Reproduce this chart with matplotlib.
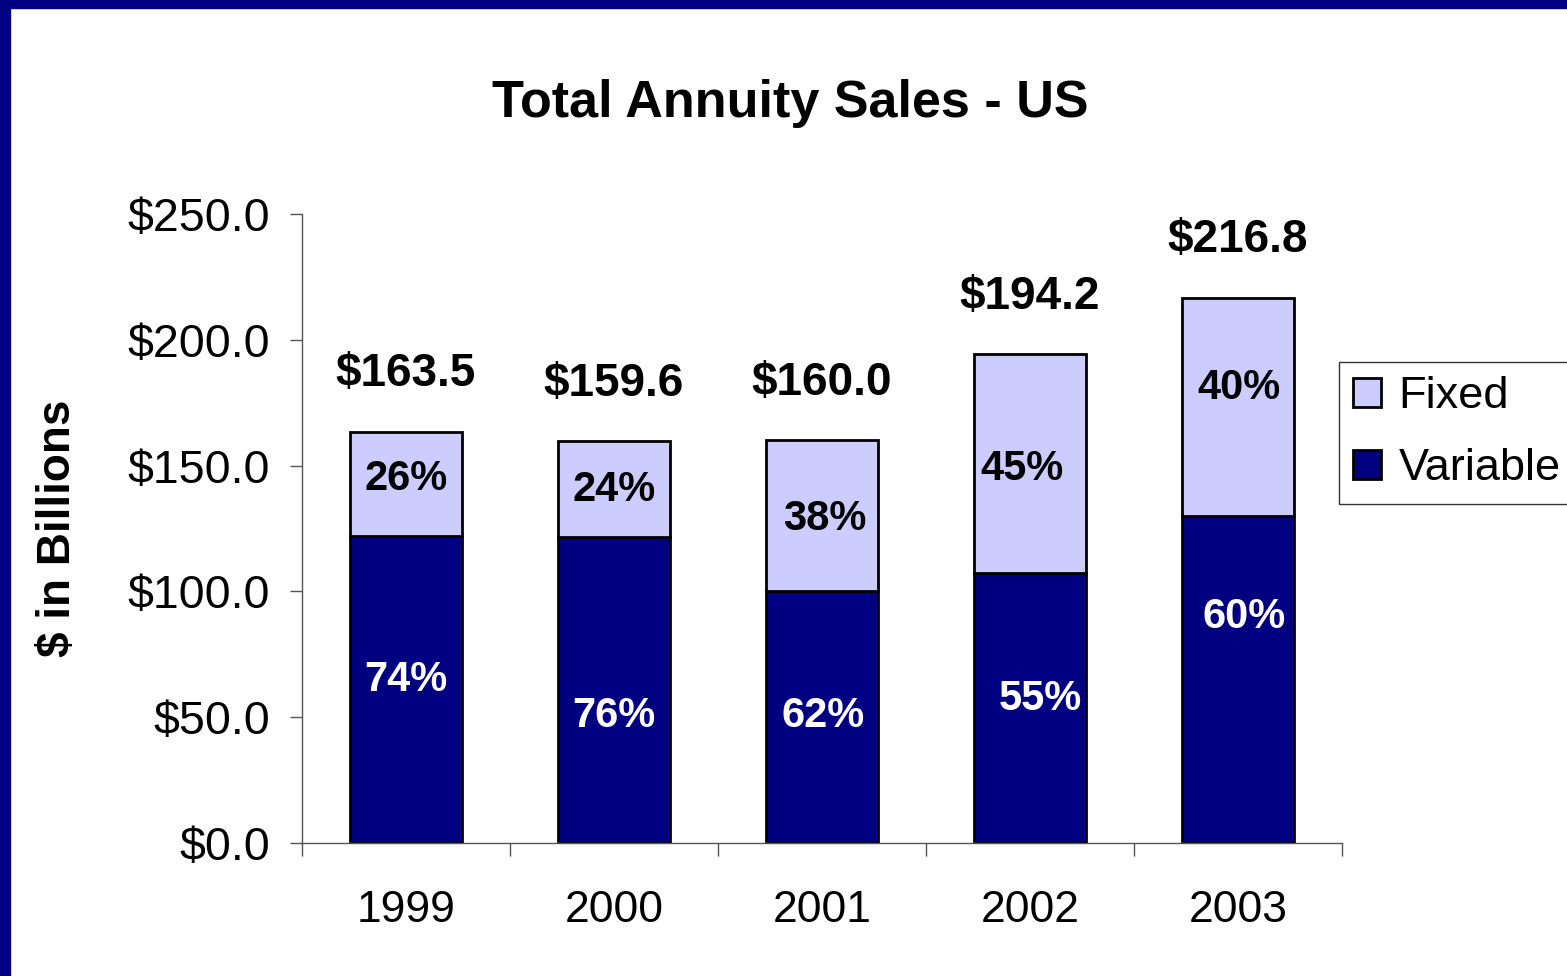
import matplotlib.pyplot as plt
import numpy as np
from matplotlib.patches import Rectangle

plt.rcParams['font.family'] = ['Liberation Sans', 'DejaVu Sans']

years = ['1999', '2000', '2001', '2002', '2003']
totals = np.array([163.5, 159.6, 160.0, 194.2, 216.8])
variable = np.array([122.0, 121.5, 100.0, 107.5, 129.8])
fixed = totals - variable
fixed_pct = ['26%', '24%', '38%', '45%', '40%']
variable_pct = ['74%', '76%', '62%', '55%', '60%']

# hand-placed label spots (x offset from bar centre, y in $bn)
fixed_lbl_pos = [(0, 144.8), (0, 140.4), (0.015, 128.9), (-0.04, 148.7), (0.005, 180.9)]
var_lbl_pos = [(0, 64.8), (0, 50.5), (0.005, 50.5), (0.05, 57.2), (0.03, 89.8)]

navy = '#000080'
lilac = '#CCCCFF'

fig = plt.figure(figsize=(15.67, 9.76), dpi=100)
fig.patches.append(Rectangle((0, 1 - 8 / 976), 1, 8 / 976, transform=fig.transFigure,
                             color=navy, zorder=0))
fig.patches.append(Rectangle((0, 0), 10 / 1567, 1, transform=fig.transFigure,
                             color=navy, zorder=0))

ax = fig.add_axes([302 / 1567, 1 - 843 / 976, 1040 / 1567, 629 / 976])
x = np.arange(len(years))
w = 0.54
ax.bar(x, variable, w, color=navy, edgecolor='black', linewidth=2, label='Variable')
ax.bar(x, fixed, w, bottom=variable, color=lilac, edgecolor='black', linewidth=2, label='Fixed')

for i in range(len(years)):
    ax.text(i, totals[i] + 22.8, '$%.1f' % totals[i], ha='center', va='center',
            fontsize=33, fontweight='bold')
    dx, y = fixed_lbl_pos[i]
    ax.text(i + dx, y, fixed_pct[i], ha='center', va='center', fontsize=30,
            fontweight='bold', color='black')
    dx, y = var_lbl_pos[i]
    ax.text(i + dx, y, variable_pct[i], ha='center', va='center', fontsize=30,
            fontweight='bold', color='white')

ax.set_xlim(-0.5, len(years) - 0.5)
ax.set_ylim(0, 250)
ax.set_yticks(np.arange(0, 251, 50))
ax.set_yticklabels(['$%.1f' % v for v in np.arange(0, 251, 50)])
ax.set_xticks(x)
ax.set_xticklabels(years)
ax.set_xticks(np.arange(-0.5, len(years), 1), minor=True)
ax.tick_params(axis='x', which='major', length=0, labelsize=32, pad=34)
ax.tick_params(axis='x', which='minor', length=9, width=1, color='#555555', direction='out')
ax.tick_params(axis='y', length=9, width=1, color='#555555', labelsize=33.5, pad=14)

for s in ['top', 'right']:
    ax.spines[s].set_visible(False)
for s in ['left', 'bottom']:
    ax.spines[s].set_color('#555555')
    ax.spines[s].set_linewidth(1)

ax.set_ylabel('$ in Billions', fontsize=33, fontweight='bold')
ax.yaxis.set_label_coords(-222 / 1040, 0.5)

fig.text(790 / 1567, 1 - 104 / 976, 'Total Annuity Sales - US', ha='center', va='center',
         fontsize=37.5, fontweight='bold')

h, l = ax.get_legend_handles_labels()
leg = fig.legend(h[::-1], l[::-1], loc='upper left', bbox_to_anchor=(1339 / 1567, 1 - 362 / 976),
                 fontsize=32.5, frameon=True, fancybox=False, edgecolor='black',
                 handlelength=0.6, handleheight=0.6, handletextpad=0.4,
                 labelspacing=0.68, borderpad=0.32, borderaxespad=0)
leg.get_frame().set_linewidth(1)

fig.savefig('out.png', dpi=100)
